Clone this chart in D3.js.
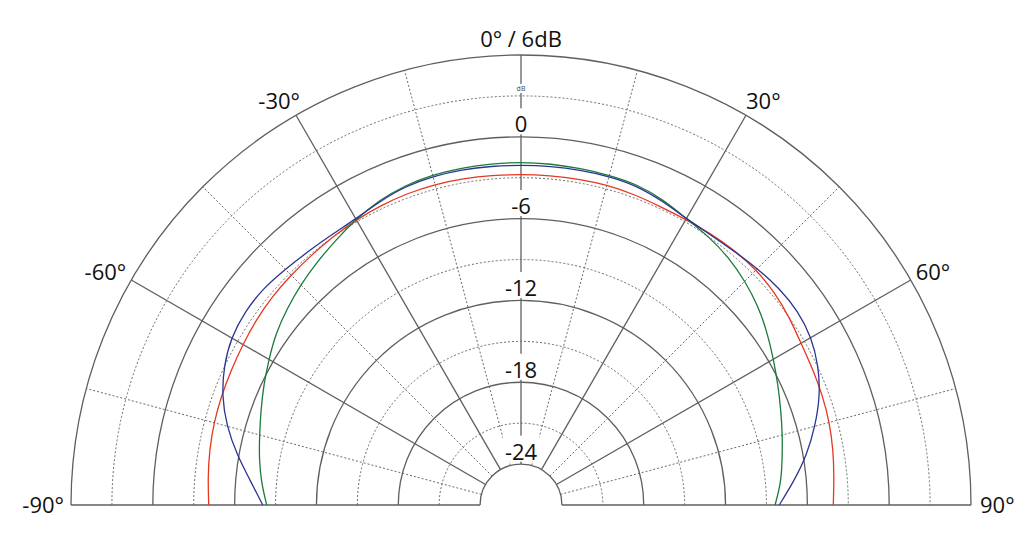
<!DOCTYPE html>
<html>
<head>
<meta charset="utf-8">
<script src="https://cdn.jsdelivr.net/npm/d3@7"></script>
<style>
  html, body { margin: 0; padding: 0; background: #fff; }
  svg { display: block; }
  text { font-family: "Open Sans", "Noto Sans", sans-serif; }
</style>
</head>
<body>
<svg id="chart" width="1035" height="537"></svg>
<script>
// ---------- data ----------
const angles = [-90,-85,-80,-75,-70,-65,-60,-55,-50,-45,-40,-35,-30,-25,-20,-15,-10,-5,0,5,10,15,20,25,30,35,40,45,50,55,60,65,70,75,80,85,90];

const redValues = [-4.1,-3.95,-3.8,-3.68,-3.62,-3.55,-3.45,-3.3,-3.2,-3.15,-3.08,-2.97,-2.84,-2.74,-2.67,-2.65,-2.69,-2.73,-2.75,-2.75,-2.72,-2.7,-2.75,-2.84,-2.82,-2.72,-2.63,-2.6,-2.72,-2.98,-3.28,-3.4,-3.47,-3.58,-3.75,-3.95,-4.1];

const blueValues = [-8.06,-7.1,-5.85,-4.65,-3.66,-2.95,-2.45,-2.28,-2.3,-2.55,-2.72,-2.8,-2.77,-2.45,-2.14,-2.04,-2.03,-2.05,-2.07,-2.05,-2.05,-2.05,-2.1,-2.42,-2.75,-2.8,-2.7,-2.47,-2.27,-2.2,-2.4,-2.92,-3.66,-4.67,-5.7,-6.9,-8.06];

const greenValues = [-8.35,-7.88,-7.5,-7.15,-6.7,-6.18,-5.65,-5.05,-4.6,-4.15,-3.73,-3.3,-2.8,-2.35,-2.07,-1.93,-1.9,-1.87,-1.85,-1.88,-1.93,-1.96,-1.99,-2.3,-2.75,-2.98,-3.3,-3.77,-4.3,-4.95,-5.62,-6.2,-6.72,-7.15,-7.55,-7.85,-8.37];

const ringLevels = [-24,-21,-18,-15,-12,-9,-6,-3,0,3,6];
const ringLabels = ["-24","-18","-12","-6","0"];
const ringLabelLevels = [-24,-18,-12,-6,0];
const spokeAngles = [-75,-60,-45,-30,-15,0,15,30,45,60,75];
const angleLabels = ["-90°","-60°","-30°","0° / 6dB","30°","60°","90°"];

// ---------- layout ----------
const svg = d3.select("#chart");
const cx = 521, cy = 505;
const R = 450;
const r = d3.scaleLinear().domain([-27, 6]).range([0, R]);
const hole = r(-24);
const rad = a => a * Math.PI / 180;
const px = (a, rr) => cx + rr * Math.sin(rad(a));
const py = (a, rr) => cy - rr * Math.cos(rad(a));

const g = svg.append("g");
const gridColor = "#5f5f5f";
const dotColor = "#6a6a6a";

// rings
ringLevels.forEach(lv => {
  const p = d3.path();
  const rr = r(lv);
  p.moveTo(cx - rr, cy);
  p.arc(cx, cy, rr, Math.PI, 2 * Math.PI);
  const solid = (lv % 6 === 0);
  g.append("path").attr("d", p.toString())
    .attr("fill", "none")
    .attr("stroke", solid ? gridColor : dotColor)
    .attr("stroke-width", solid ? 1.3 : 1)
    .attr("stroke-dasharray", solid ? null : "2,2");
});

// baseline
g.append("line").attr("x1", cx - R).attr("x2", cx - hole).attr("y1", cy).attr("y2", cy)
  .attr("stroke", gridColor).attr("stroke-width", 1.4);
g.append("line").attr("x1", cx + hole).attr("x2", cx + R).attr("y1", cy).attr("y2", cy)
  .attr("stroke", gridColor).attr("stroke-width", 1.4);

// spokes
spokeAngles.forEach(a => {
  const solid = (a % 30 === 0);
  g.append("line")
    .attr("x1", px(a, hole)).attr("y1", py(a, hole))
    .attr("x2", px(a, R)).attr("y2", py(a, R))
    .attr("stroke", solid ? gridColor : dotColor)
    .attr("stroke-width", solid ? 1.3 : 1)
    .attr("stroke-dasharray", solid ? null : "2,2");
});

// data curves
const line = d3.lineRadial()
  .angle(d => rad(d[0]))
  .radius(d => r(d[1]))
  .curve(d3.curveBasis);

const series = [
  { values: redValues, color: "#e8361f" },
  { values: greenValues, color: "#1a7a3a" },
  { values: blueValues, color: "#2a3590" }
];
const cg = svg.append("g").attr("transform", `translate(${cx},${cy})`);
series.forEach(s => {
  cg.append("path")
    .datum(angles.map((a, i) => [a, s.values[i]]))
    .attr("d", line)
    .attr("fill", "none")
    .attr("stroke", s.color)
    .attr("stroke-width", 1.3);
});

// ring labels with white background
const lg = svg.append("g");
ringLabelLevels.forEach((lv, i) => {
  const base = cy - r(lv) - 4.5;
  const t = lg.append("text")
    .attr("x", cx).attr("y", base)
    .attr("text-anchor", "middle")
    .attr("font-size", 22)
    .attr("fill", "#111")
    .text(ringLabels[i]);
  const bb = t.node().getBBox();
  lg.insert("rect", "text")
    .attr("x", bb.x - 2).attr("y", base - 24)
    .attr("width", bb.width + 4).attr("height", 26)
    .attr("fill", "#fff");
});

// tiny dB label
{
  const base = cy - r(3) - 5;
  const t = lg.append("text").attr("x", cx).attr("y", base)
    .attr("text-anchor", "middle").attr("font-size", 7).attr("fill", "#444").text("dB");
  const bb = t.node().getBBox();
  lg.insert("rect", "text").attr("x", bb.x - 1).attr("y", bb.y)
    .attr("width", bb.width + 2).attr("height", bb.height).attr("fill", "#fff");
}

// angle labels
const al = svg.append("g").attr("font-size", 22).attr("fill", "#111");
al.append("text").attr("x", cx).attr("y", cy - R - 8).attr("text-anchor", "middle").text(angleLabels[3]);
al.append("text").attr("x", px(-30, R) + 4).attr("y", py(-30, R) - 6).attr("text-anchor", "end").text(angleLabels[2]);
al.append("text").attr("x", px(30, R)).attr("y", py(30, R) - 6).attr("text-anchor", "start").text(angleLabels[4]);
al.append("text").attr("x", px(-60, R) - 5).attr("y", py(-60, R)).attr("text-anchor", "end").text(angleLabels[1]);
al.append("text").attr("x", px(60, R) + 5).attr("y", py(60, R)).attr("text-anchor", "start").text(angleLabels[5]);
al.append("text").attr("x", px(-90, R) - 7).attr("y", cy + 8).attr("text-anchor", "end").text(angleLabels[0]);
al.append("text").attr("x", px(90, R) + 9).attr("y", cy + 8).attr("text-anchor", "start").text(angleLabels[6]);
</script>
</body>
</html>
